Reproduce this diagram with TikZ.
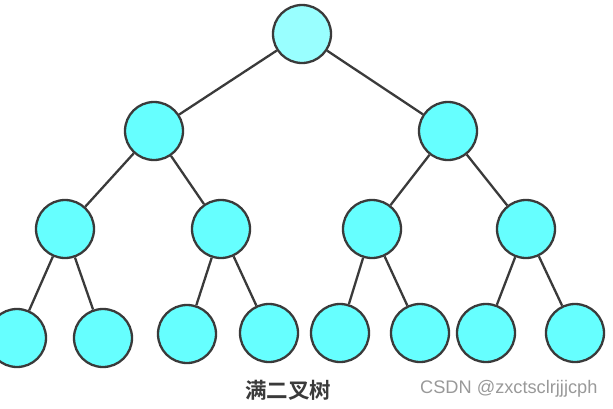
\documentclass[tikz,border=0pt]{standalone}
\usepackage{fontspec}
\setsansfont{Liberation Sans}
\newfontfamily\cjk{Noto Sans CJK SC}[BoldFont={Noto Sans CJK SC Bold}]
\usetikzlibrary{positioning}
\definecolor{nodefill}{HTML}{66FFFF}
\definecolor{rootfill}{HTML}{99FFFF}
\definecolor{linegray}{HTML}{3A3A3A}
\definecolor{markgray}{HTML}{999999}

\begin{document}
\begin{tikzpicture}[x=1pt, y=-1pt,
        tnode/.style={circle, draw=linegray, line width=2.3pt, fill=nodefill,
                      minimum size=58pt, inner sep=0pt},
        troot/.style={tnode, fill=rootfill},
        ln/.style={line width=2.3pt, linegray}]
        \useasboundingbox (0,0) rectangle (613,408);
        % root
        \node[troot] (n1) at (302,34) {};
        % second level
        \node[tnode] (n2) at (154,131) {};
        \node[tnode] (n3) at (448,131) {};
        % third level
        \node[tnode] (n4) at (65,229) {};
        \node[tnode] (n5) at (221,229) {};
        \node[tnode] (n6) at (372,229) {};
        \node[tnode] (n7) at (526,229) {};
        % leaves
        \node[tnode] (n8)  at (17,338) {};
        \node[tnode] (n9)  at (103,338) {};
        \node[tnode] (n10) at (187,334) {};
        \node[tnode] (n11) at (269,333) {};
        \node[tnode] (n12) at (340,333) {};
        \node[tnode] (n13) at (420,333) {};
        \node[tnode] (n14) at (486,333) {};
        \node[tnode] (n15) at (575,333) {};
        \draw[ln] (n1) -- (n2);
        \draw[ln] (n1) -- (n3);
        \draw[ln] (n2) -- (n4);
        \draw[ln] (n2) -- (n5);
        \draw[ln] (n3) -- (n6);
        \draw[ln] (n3) -- (n7);
        \draw[ln] (n4) -- (n8);
        \draw[ln] (n4) -- (n9);
        \draw[ln] (n5) -- (n10);
        \draw[ln] (n5) -- (n11);
        \draw[ln] (n6) -- (n12);
        \draw[ln] (n6) -- (n13);
        \draw[ln] (n7) -- (n14);
        \draw[ln] (n7) -- (n15);
        \node[font=\cjk\bfseries\fontsize{21.5}{21.5}\selectfont, text=linegray,
              inner sep=0pt] (cap) at (288,390) {满二叉树};
        \node[font=\sffamily\fontsize{18.2}{18.2}\selectfont, text=markgray,
              inner sep=0pt, anchor=west] (mark) at (420,389) {CSDN @zxctsclrjjjcph};
\end{tikzpicture}
\end{document}
